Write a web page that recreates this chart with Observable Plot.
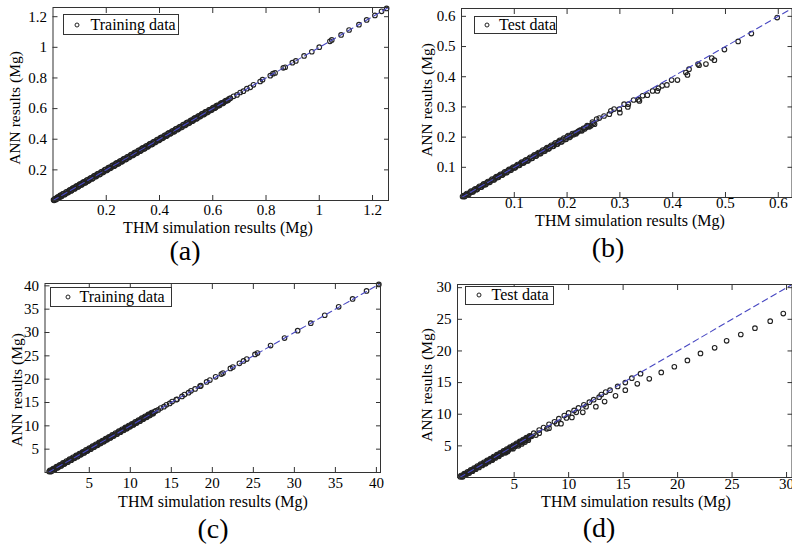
<!DOCTYPE html>
<html><head><meta charset="utf-8">
<script src="https://cdn.jsdelivr.net/npm/d3@7"></script>
<script src="https://cdn.jsdelivr.net/npm/@observablehq/plot@0.6"></script>
<style>
body{margin:0;background:#fff;}
#root{position:relative;width:792px;height:550px;overflow:hidden;background:#fff;font-family:"Liberation Serif","Times New Roman",serif;color:#000;}
.panel{position:absolute;}
.panel text{font-family:"Liberation Serif","Times New Roman",serif;}
.xt,.yt,.lab{position:absolute;white-space:nowrap;line-height:1;}
.xt{transform:translate(-50%,-50%);font-size:16px;}
.yt{transform:translate(-50%,-50%) rotate(-90deg);font-size:15.5px;}
.lab{transform:translate(-50%,-50%);font-size:28px;}
.leg{position:absolute;border:1px solid #333;background:#fff;font-size:16px;box-sizing:border-box;line-height:1;}
.leg .mk{position:absolute;width:5px;height:5px;border:1px solid #222;border-radius:50%;box-sizing:border-box;transform:translate(-50%,-50%);top:50%;}
.leg .tx{position:absolute;top:50%;transform:translateY(-50%);white-space:nowrap;}
</style></head><body><div id="root"></div>
<script>
// ---------- data ----------
const ticksA = [0.2, 0.4, 0.6, 0.8, 1, 1.2];
const ticksB = [0.1, 0.2, 0.3, 0.4, 0.5, 0.6];
const ticksC = [5, 10, 15, 20, 25, 30, 35, 40];
const ticksD = [5, 10, 15, 20, 25, 30];

const seriesNames = ["Training data", "Test data", "Training data", "Test data"];
const panelLabels = ["(a)", "(b)", "(c)", "(d)"];
const xTitle = "THM simulation results (Mg)";
const yTitle = "ANN results (Mg)";

// (a) training data, Mg  [THM, ANN]
const trainA1 = [
[0.002,0.005],[0.006,0.004],[0.010,0.013],[0.014,0.011],[0.019,0.022],[0.024,0.020],[0.029,0.033],[0.034,0.031],[0.040,0.045],[0.046,0.042],
[0.052,0.057],[0.058,0.054],[0.064,0.069],[0.070,0.066],[0.077,0.082],[0.083,0.079],[0.090,0.095],[0.096,0.091],[0.103,0.108],[0.109,0.105],
[0.116,0.121],[0.123,0.118],[0.129,0.135],[0.136,0.132],[0.143,0.148],[0.150,0.145],[0.157,0.162],[0.163,0.159],[0.170,0.176],[0.177,0.172],
[0.184,0.189],[0.191,0.187],[0.198,0.203],[0.205,0.200],[0.212,0.217],[0.219,0.215],[0.226,0.231],[0.233,0.229],[0.240,0.245],[0.247,0.242],
[0.254,0.259],[0.261,0.257],[0.268,0.273],[0.275,0.270],[0.282,0.287],[0.289,0.285],[0.296,0.301],[0.303,0.299],[0.310,0.315],[0.317,0.312],
[0.324,0.329],[0.331,0.327],[0.338,0.343],[0.345,0.340],[0.352,0.357],[0.359,0.355],[0.366,0.371],[0.373,0.368],[0.380,0.385],[0.387,0.383],
[0.394,0.399],[0.401,0.396],[0.408,0.413],[0.415,0.411],[0.422,0.427],[0.429,0.424],[0.436,0.441],[0.443,0.439],[0.450,0.455],[0.457,0.452],
[0.464,0.469],[0.471,0.467],[0.478,0.483],[0.485,0.480],[0.492,0.497],[0.499,0.495],[0.506,0.511],[0.513,0.508],[0.520,0.525],[0.527,0.523],
[0.534,0.539],[0.541,0.536],[0.548,0.553],[0.555,0.551],[0.562,0.567],[0.569,0.564],[0.576,0.581],[0.583,0.579],[0.590,0.594],[0.597,0.593],
[0.604,0.608],[0.611,0.607],[0.618,0.622],[0.626,0.622],[0.633,0.637],[0.641,0.638],[0.649,0.652],[0.657,0.655],[0.666,0.668],
[0.678,0.680],[0.691,0.689],[0.703,0.705],[0.715,0.714],[0.728,0.730],[0.741,0.739],[0.753,0.755],[0.778,0.777],[0.787,0.789],[0.816,0.815],
[0.826,0.828],[0.834,0.833],[0.865,0.866],[0.872,0.870],[0.899,0.900],[0.912,0.911],[0.943,0.944],[0.972,0.971],[1.000,1.001],[1.040,1.039],
[1.047,1.048],[1.082,1.081],[1.112,1.113],[1.149,1.148],[1.178,1.179],[1.209,1.208],[1.234,1.235],[1.253,1.254]
];
const trainA2 = [
[0.004,0.001],[0.008,0.013],[0.012,0.007],[0.017,0.023],[0.021,0.016],[0.027,0.033],[0.031,0.026],[0.037,0.043],[0.043,0.038],[0.049,0.055],
[0.055,0.050],[0.061,0.067],[0.067,0.062],[0.073,0.079],[0.080,0.075],[0.086,0.092],[0.093,0.088],[0.099,0.105],[0.106,0.101],[0.112,0.118],
[0.119,0.114],[0.126,0.132],[0.132,0.127],[0.139,0.145],[0.146,0.141],[0.153,0.159],[0.160,0.155],[0.166,0.172],[0.173,0.168],[0.180,0.186],
[0.187,0.182],[0.194,0.200],[0.201,0.196],[0.208,0.214],[0.215,0.210],[0.222,0.228],[0.229,0.224],[0.236,0.242],[0.243,0.238],[0.250,0.256],
[0.257,0.252],[0.264,0.270],[0.271,0.266],[0.278,0.284],[0.285,0.280],[0.292,0.298],[0.299,0.294],[0.306,0.312],[0.313,0.308],[0.320,0.326],
[0.327,0.322],[0.334,0.340],[0.341,0.336],[0.348,0.354],[0.355,0.350],[0.362,0.368],[0.369,0.364],[0.376,0.382],[0.383,0.378],[0.390,0.396],
[0.397,0.392],[0.404,0.410],[0.411,0.406],[0.418,0.424],[0.425,0.420],[0.432,0.438],[0.439,0.434],[0.446,0.452],[0.453,0.448],[0.460,0.466],
[0.467,0.462],[0.474,0.480],[0.481,0.476],[0.488,0.494],[0.495,0.490],[0.502,0.508],[0.509,0.504],[0.516,0.522],[0.523,0.518],[0.530,0.536],
[0.537,0.532],[0.544,0.550],[0.551,0.546],[0.558,0.564],[0.565,0.560],[0.572,0.578],[0.579,0.574],[0.586,0.591],[0.593,0.589],[0.600,0.605],
[0.607,0.603],[0.614,0.619],[0.622,0.618],[0.629,0.633],[0.637,0.634],[0.645,0.648],[0.653,0.651],[0.661,0.663]
];

// (b) test data, Mg
const testB1 = [
[0.002,0.003],[0.005,0.004],[0.008,0.009],[0.012,0.010],[0.016,0.017],[0.020,0.018],[0.024,0.025],[0.028,0.026],[0.032,0.033],[0.036,0.034],
[0.040,0.041],[0.044,0.042],[0.048,0.049],[0.052,0.050],[0.056,0.057],[0.060,0.058],[0.064,0.065],[0.068,0.066],[0.072,0.073],[0.076,0.074],
[0.080,0.081],[0.084,0.082],[0.088,0.089],[0.092,0.090],[0.096,0.097],[0.100,0.098],[0.104,0.105],[0.108,0.106],[0.112,0.113],[0.116,0.114],
[0.120,0.121],[0.124,0.121],[0.128,0.129],[0.132,0.129],[0.136,0.137],[0.140,0.137],[0.144,0.145],[0.148,0.145],[0.152,0.153],[0.156,0.153],
[0.160,0.161],[0.164,0.161],[0.168,0.169],[0.172,0.169],[0.176,0.177],[0.180,0.176],[0.184,0.185],[0.188,0.184],[0.192,0.193],[0.196,0.192],
[0.200,0.201],[0.204,0.199],[0.208,0.206],[0.212,0.208],[0.215,0.213],[0.219,0.216],[0.224,0.222],[0.228,0.221],[0.231,0.229],[0.236,0.232],
[0.240,0.236],[0.245,0.238],[0.250,0.246],[0.256,0.260],[0.261,0.263],[0.270,0.270],[0.280,0.276],[0.283,0.287],[0.289,0.293],[0.299,0.293],
[0.300,0.281],[0.308,0.309],[0.315,0.300],[0.316,0.309],[0.326,0.323],[0.335,0.324],[0.337,0.320],[0.343,0.337],[0.352,0.339],[0.362,0.353],
[0.371,0.353],[0.373,0.362],[0.380,0.370],[0.389,0.373],[0.398,0.389],[0.409,0.389],[0.425,0.414],[0.428,0.406],[0.431,0.425],[0.448,0.442],
[0.450,0.438],[0.463,0.442],[0.474,0.462],[0.479,0.455],[0.498,0.490],[0.524,0.517],[0.549,0.543],[0.598,0.596]
];
const testB2 = [
[0.004,0.006],[0.006,0.003],[0.010,0.013],[0.014,0.011],[0.018,0.021],[0.022,0.019],[0.026,0.029],[0.030,0.027],[0.034,0.037],[0.038,0.035],
[0.042,0.045],[0.046,0.043],[0.050,0.053],[0.054,0.051],[0.058,0.061],[0.062,0.059],[0.066,0.069],[0.070,0.067],[0.074,0.077],[0.078,0.075],
[0.082,0.085],[0.086,0.083],[0.090,0.093],[0.094,0.091],[0.098,0.101],[0.102,0.099],[0.106,0.109],[0.110,0.107],[0.114,0.117],[0.118,0.115],
[0.122,0.125],[0.126,0.122],[0.130,0.133],[0.134,0.130],[0.138,0.141],[0.142,0.138],[0.146,0.149],[0.150,0.146],[0.154,0.157],[0.158,0.154],
[0.162,0.165],[0.166,0.162],[0.170,0.173],[0.174,0.170],[0.178,0.181],[0.182,0.177],[0.186,0.189],[0.190,0.185],[0.194,0.197],[0.198,0.193],
[0.202,0.205],[0.206,0.201],[0.210,0.212],[0.217,0.211],[0.221,0.219],[0.226,0.223],[0.233,0.227],[0.238,0.238],[0.242,0.234],[0.248,0.250],
[0.252,0.243]
];

// (c) training data, Mg
const trainC1 = [
[0.1,0.2],[0.3,0.2],[0.5,0.6],[0.7,0.6],[0.9,1.0],[1.1,1.0],[1.3,1.4],[1.5,1.4],[1.7,1.8],[1.9,1.8],
[2.1,2.2],[2.3,2.2],[2.5,2.6],[2.7,2.6],[2.9,3.0],[3.1,3.0],[3.3,3.4],[3.5,3.4],[3.7,3.8],[3.9,3.8],
[4.1,4.2],[4.3,4.2],[4.5,4.6],[4.7,4.6],[4.9,5.0],[5.1,5.0],[5.3,5.4],[5.5,5.4],[5.7,5.8],[5.9,5.8],
[6.1,6.2],[6.3,6.2],[6.5,6.6],[6.7,6.6],[6.9,7.0],[7.1,7.0],[7.3,7.4],[7.5,7.4],[7.7,7.8],[7.9,7.8],
[8.1,8.2],[8.3,8.2],[8.5,8.6],[8.7,8.6],[8.9,9.0],[9.1,9.0],[9.3,9.4],[9.5,9.4],[9.7,9.8],[9.9,9.8],
[10.1,10.2],[10.3,10.2],[10.5,10.6],[10.7,10.6],[10.9,11.0],[11.1,11.0],[11.3,11.4],[11.5,11.4],[11.7,11.8],[11.9,11.8],
[12.1,12.2],[12.3,12.2],[12.5,12.6],[12.7,12.6],[12.9,13.0],
[13.1,13.2],[13.4,13.4],[13.7,13.8],[14.1,14.1],[14.4,14.5],[14.8,14.8],[15.1,15.2],[15.6,15.6],[15.7,15.7],[16.3,16.3],
[16.6,16.7],[17.1,17.1],[17.4,17.5],[17.9,17.9],[18.5,18.5],[18.6,18.6],[19.3,19.4],[19.7,19.8],[20.4,20.5],[21.1,21.1],
[21.3,21.3],[22.2,22.3],[22.5,22.6],[23.3,23.4],[23.8,23.9],[24.2,24.3],[25.2,25.3],[25.5,25.6],[27.1,27.2],[28.8,28.8],
[30.4,30.4],[32.0,32.0],[33.7,33.7],[35.4,35.5],[37.1,37.2],[38.8,38.9],[40.3,40.3]
];
const trainC2 = [
[0.2,0.45],[0.4,0.25],[0.6,0.85],[0.8,0.65],[1.0,1.25],[1.2,1.05],[1.4,1.65],[1.6,1.45],[1.8,2.05],[2.0,1.85],
[2.2,2.45],[2.4,2.25],[2.6,2.85],[2.8,2.65],[3.0,3.25],[3.2,3.05],[3.4,3.65],[3.6,3.45],[3.8,4.05],[4.0,3.85],
[4.2,4.45],[4.4,4.25],[4.6,4.85],[4.8,4.65],[5.0,5.25],[5.2,5.05],[5.4,5.65],[5.6,5.45],[5.8,6.05],[6.0,5.85],
[6.2,6.45],[6.4,6.25],[6.6,6.85],[6.8,6.65],[7.0,7.25],[7.2,7.05],[7.4,7.65],[7.6,7.45],[7.8,8.05],[8.0,7.85],
[8.2,8.45],[8.4,8.25],[8.6,8.85],[8.8,8.65],[9.0,9.25],[9.2,9.05],[9.4,9.65],[9.6,9.45],[9.8,10.05],[10.0,9.85],
[10.2,10.45],[10.4,10.25],[10.6,10.85],[10.8,10.65],[11.0,11.25],[11.2,11.05],[11.4,11.65],[11.6,11.45],[11.8,12.05],[12.0,11.85],
[12.2,12.45],[12.4,12.25],[12.6,12.85],[12.8,12.65]
];

// (d) test data, Mg
const testD1 = [
[0.05,0.1],[0.2,0.15],[0.35,0.4],[0.5,0.45],[0.65,0.7],[0.8,0.75],[0.95,1.0],[1.1,1.05],[1.25,1.3],[1.4,1.35],
[1.55,1.6],[1.7,1.65],[1.85,1.9],[2.0,1.95],[2.15,2.2],[2.3,2.25],[2.45,2.5],[2.6,2.55],[2.75,2.8],[2.9,2.85],
[3.05,3.1],[3.2,3.15],[3.35,3.4],[3.5,3.45],[3.65,3.7],[3.8,3.75],[3.95,4.0],[4.1,4.05],[4.25,4.3],[4.4,4.35],
[4.55,4.6],[4.7,4.65],[4.85,4.9],[5.0,4.95],[5.15,5.2],[5.3,5.25],[5.45,5.5],[5.6,5.55],[5.75,5.8],[5.9,5.85],
[6.05,6.1],[6.2,6.15],[6.35,6.4],[6.5,6.5],
[2.4,2.2],[3.0,2.75],[3.6,3.35],[4.2,3.9],[4.4,4.1],[4.9,4.55],[5.4,5.0],[5.7,5.3],[6.0,5.6],[6.3,5.9],
[6.8,7.0],[7.3,7.5],[7.7,7.9],[8.2,8.4],[8.7,8.8],[9.1,9.3],[9.6,9.8],[10.0,10.2],[10.5,10.6],[10.9,11.0],
[11.4,11.5],[11.9,11.9],[12.3,12.3],[12.8,12.7],[13.0,13.1],[13.4,13.5],[13.8,13.8],[14.5,14.4],[15.2,15.0],[15.8,15.7],[16.6,16.4],
[7.0,6.7],[7.3,7.0],[8.0,7.7],[8.2,7.8],[8.9,8.5],[9.3,8.5],[9.8,9.4],[10.3,9.5],[10.7,10.3],[11.3,10.3],[11.6,11.2],[12.5,11.2],
[13.3,12.0],[14.3,12.9],[15.2,13.8],[16.3,14.8],[17.4,15.6],[18.5,16.6],[19.7,17.5],[20.9,18.5],[22.1,19.6],[23.4,20.5],
[24.5,21.6],[25.8,22.6],[27.1,23.6],[28.5,24.7],[29.7,25.9]
];
const testD2 = [
[0.12,0.3],[0.28,0.1],[0.42,0.6],[0.58,0.4],[0.72,0.9],[0.88,0.7],[1.02,1.2],[1.18,1.0],[1.32,1.5],[1.48,1.3],
[1.62,1.8],[1.78,1.6],[1.92,2.1],[2.08,1.9],[2.22,2.4],[2.38,2.2],[2.52,2.7],[2.68,2.5],[2.82,3.0],[2.98,2.8],
[3.12,3.3],[3.28,3.1],[3.42,3.6],[3.58,3.4],[3.72,3.9],[3.88,3.7],[4.02,4.2],[4.18,4.0],[4.32,4.5],[4.48,4.3],
[4.62,4.8],[4.78,4.6],[4.92,5.1],[5.08,4.9],[5.22,5.4],[5.38,5.2],[5.52,5.7],[5.68,5.5],[5.82,6.0],[5.98,5.8],
[6.12,6.3],[6.28,6.1],[6.42,6.6],[6.6,6.5]
];

const trainA = trainA1.concat(trainA2);
const testB = testB1.concat(testB2);
const trainC = trainC1.concat(trainC2);
const testD = testD1.concat(testD2);

// axis extents (Mg) and the 1:1 reference line
const domainA = [0, 1.26],  diagA = [0, 1.26];
const domainBx = [0, 0.626], domainBy = [0, 0.626], diagB = [0, 0.63];
const domainCx = [-0.4, 40.5], domainCy = [0, 40.5], diagC = [0, 40.5];
const domainDx = [-0.2, 30.5], domainDy = [0, 30.5], diagD = [0, 30.6];

// ---------- layout ----------
const panels = [
  {data: trainA, diag: diagA, ticks: ticksA, xd: domainA, yd: domainA, name: seriesNames[0], label: panelLabels[0],
   box: [0, 0, 396, 250], m: [7, 8, 50, 52.5], xpad: 9,
   xt: [218, 228], yt: [15, 108], lab: [185, 251], leg: [62.5, 14, 116, 21, 13, 27]},
  {data: testB, diag: diagB, ticks: ticksB, xd: domainBx, yd: domainBy, name: seriesNames[1], label: panelLabels[1],
   box: [396, 0, 396, 250], m: [8, 0.5, 53, 65], xpad: 5,
   xt: [630, 221], yt: [427, 100], lab: [608, 248], leg: [474, 15.5, 83, 18, 12, 24]},
  {data: trainC, diag: diagC, ticks: ticksC, xd: domainCx, yd: domainCy, name: seriesNames[2], label: panelLabels[2],
   box: [0, 275, 396, 225], m: [8, 16, 28, 44.5], xpad: 10,
   xt: [213, 502], yt: [17, 390], lab: [213, 529], leg: [49.5, 287, 122, 19.5, 17, 29]},
  {data: testD, diag: diagD, ticks: ticksD, xd: domainDx, yd: domainDy, name: seriesNames[3], label: panelLabels[3],
   box: [396, 275, 396, 225], m: [9, 0.5, 23, 61], xpad: 6,
   xt: [636, 502], yt: [427, 385], lab: [599, 528], leg: [464.5, 286, 89, 18.5, 13, 26]}
];

const root = document.getElementById("root");
const fmt = d => String(d);
const FONT = "Liberation Serif, Times New Roman, serif";

for (const p of panels) {
  const svg = Plot.plot({
    width: p.box[2], height: p.box[3],
    marginTop: p.m[0], marginRight: p.m[1], marginBottom: p.m[2], marginLeft: p.m[3],
    x: {domain: p.xd}, y: {domain: p.yd},
    style: "font-family: 'Liberation Serif', 'Times New Roman', serif; font-size: 15px; background: transparent; color: #000; overflow: visible;",
    marks: [
      Plot.dot(p.data, {x: d => d[0], y: d => d[1], r: 2.3, stroke: "#222", strokeWidth: 1.1, fill: "none"}),
      Plot.line(p.diag.map(v => [v, v]), {x: d => d[0], y: d => d[1], stroke: "#4848c2", strokeWidth: 1.1, strokeDasharray: "6,4", clip: true}),
      Plot.frame({stroke: "#333"}),
      Plot.axisX({ticks: p.ticks, anchor: "bottom", tickSize: -5, tickPadding: p.xpad, tickFormat: fmt, label: null, stroke: "#333", fontFamily: FONT, fontSize: 15}),
      Plot.axisX({ticks: p.ticks, anchor: "top", tickSize: -5, fill: "none", label: null, stroke: "#333"}),
      Plot.axisY({ticks: p.ticks, anchor: "left", tickSize: -5, tickPadding: 11, tickFormat: fmt, label: null, stroke: "#333", fontFamily: FONT, fontSize: 15}),
      Plot.axisY({ticks: p.ticks, anchor: "right", tickSize: -5, fill: "none", label: null, stroke: "#333"})
    ]
  });
  svg.classList.add("panel");
  svg.style.position = "absolute";
  svg.style.left = p.box[0] + "px";
  svg.style.top = p.box[1] + "px";
  root.appendChild(svg);

  const xt = document.createElement("div");
  xt.className = "xt"; xt.textContent = xTitle;
  xt.style.left = p.xt[0] + "px"; xt.style.top = p.xt[1] + "px";
  root.appendChild(xt);

  const yt = document.createElement("div");
  yt.className = "yt"; yt.textContent = yTitle;
  yt.style.left = p.yt[0] + "px"; yt.style.top = p.yt[1] + "px";
  root.appendChild(yt);

  const lab = document.createElement("div");
  lab.className = "lab"; lab.textContent = p.label;
  lab.style.left = p.lab[0] + "px"; lab.style.top = p.lab[1] + "px";
  root.appendChild(lab);

  const leg = document.createElement("div");
  leg.className = "leg";
  leg.style.left = p.leg[0] + "px"; leg.style.top = p.leg[1] + "px";
  leg.style.width = p.leg[2] + "px"; leg.style.height = p.leg[3] + "px";
  const mk = document.createElement("span");
  mk.className = "mk"; mk.style.left = p.leg[4] + "px";
  const tx = document.createElement("span");
  tx.className = "tx"; tx.style.left = p.leg[5] + "px"; tx.textContent = p.name;
  leg.appendChild(mk); leg.appendChild(tx);
  root.appendChild(leg);
}
</script></body></html>
